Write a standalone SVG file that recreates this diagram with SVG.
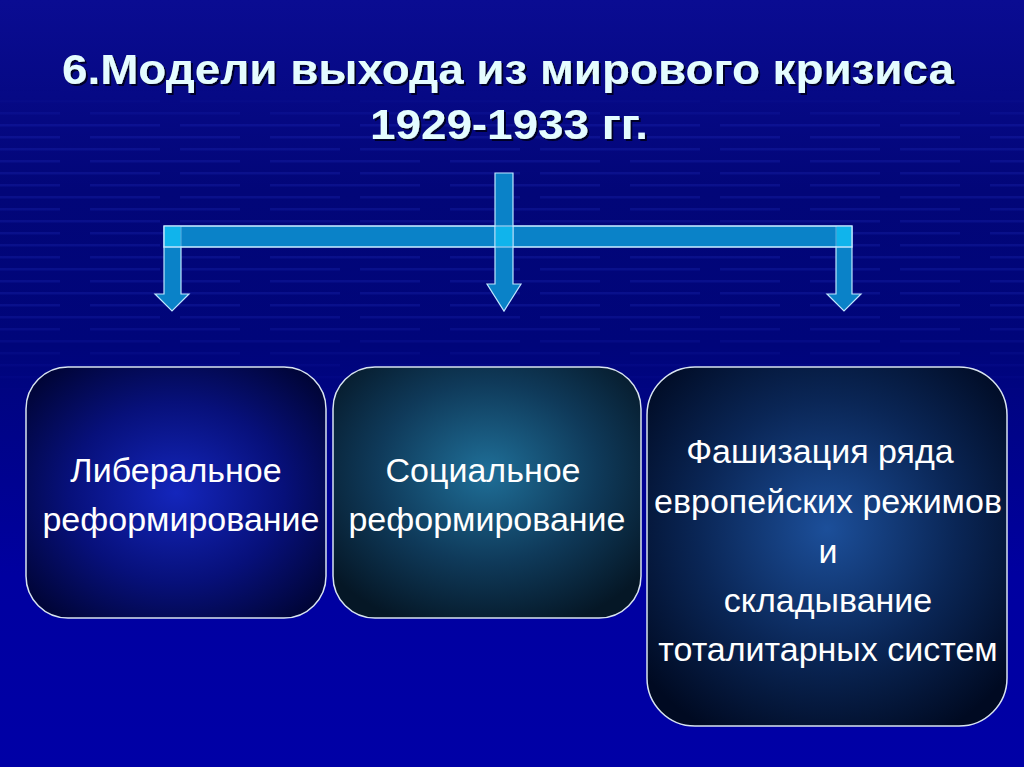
<svg xmlns="http://www.w3.org/2000/svg" width="1024" height="767" viewBox="0 0 1024 767">
  <defs>
    <linearGradient id="bg" x1="0" y1="0" x2="0" y2="1">
      <stop offset="0" stop-color="#0a0c92"/>
      <stop offset="0.25" stop-color="#020678"/>
      <stop offset="0.45" stop-color="#00057a"/>
      <stop offset="0.75" stop-color="#0000a0"/>
      <stop offset="1" stop-color="#0000a6"/>
    </linearGradient>
    <pattern id="grid" x="0" y="4" width="180" height="24" patternUnits="userSpaceOnUse">
      <rect x="0" y="0" width="160" height="2.5" fill="#3040e0"/>
      <rect x="90" y="12" width="150" height="2.5" fill="#3040e0"/>
      <rect x="-90" y="12" width="150" height="2.5" fill="#3040e0"/>
    </pattern>
    <linearGradient id="fade" x1="0" y1="0" x2="0" y2="1">
      <stop offset="0" stop-color="#fff" stop-opacity="0"/>
      <stop offset="0.12" stop-color="#fff" stop-opacity="0.18"/>
      <stop offset="0.7" stop-color="#fff" stop-opacity="0.18"/>
      <stop offset="1" stop-color="#fff" stop-opacity="0"/>
    </linearGradient>
    <mask id="gm">
      <rect x="0" y="90" width="1024" height="310" fill="url(#fade)"/>
    </mask>
    <radialGradient id="g1" cx="0.5" cy="0.5" r="0.65">
      <stop offset="0" stop-color="#1426bc"/>
      <stop offset="0.55" stop-color="#07107a"/>
      <stop offset="1" stop-color="#000434"/>
    </radialGradient>
    <radialGradient id="g2" cx="0.5" cy="0.42" r="0.65">
      <stop offset="0" stop-color="#1f6f98"/>
      <stop offset="0.55" stop-color="#0f3a5a"/>
      <stop offset="1" stop-color="#051726"/>
    </radialGradient>
    <radialGradient id="g3" cx="0.5" cy="0.45" r="0.65">
      <stop offset="0" stop-color="#1c4f9a"/>
      <stop offset="0.55" stop-color="#0a2656"/>
      <stop offset="1" stop-color="#000a22"/>
    </radialGradient>
    <filter id="shadow" x="-5%" y="-20%" width="110%" height="140%">
      <feDropShadow dx="2" dy="2" stdDeviation="0.6" flood-color="#000020" flood-opacity="0.95"/>
    </filter>
  </defs>
  <style>
    .title { font-family: "Liberation Sans", Arial, sans-serif; font-weight: bold; font-size: 43px; fill: #e4fcff; text-anchor: middle; }
    .box { stroke: #d8e4f0; stroke-width: 1.5; }
    .lbl { font-family: "Liberation Sans", Arial, sans-serif; font-size: 34px; fill: #ffffff; text-anchor: middle; }
    .arr { fill: #0a82c8; stroke: #bfe6ff; stroke-width: 1.2; }
    .hi { fill: #10b4ec; stroke: none; }
  </style>

  <rect width="1024" height="767" fill="url(#bg)"/>
  <rect x="0" y="90" width="1024" height="310" fill="url(#grid)" mask="url(#gm)"/>

  <g id="title" filter="url(#shadow)">
    <text class="title" x="508" y="84" textLength="892" lengthAdjust="spacingAndGlyphs">6.Модели выхода из мирового кризиса</text>
    <text class="title" x="509" y="139" textLength="278" lengthAdjust="spacingAndGlyphs">1929-1933 гг.</text>
  </g>

  <g id="connectors">
    <rect class="arr" x="164" y="226" width="688" height="21"/>
    <path class="arr" d="M495,173 H513 V284 H521 L504,311 L487,284 H495 Z"/>
    <path class="arr" d="M164,247 H181 V294 H189 L172,311 L155,294 H164 Z"/>
    <path class="arr" d="M836,247 H852 V294 H861 L844,311 L827,294 H836 Z"/>
    <rect class="hi" x="164.6" y="226.6" width="16" height="19.8"/>
    <rect class="hi" x="495.6" y="226.6" width="16.8" height="19.8"/>
    <rect class="hi" x="836.6" y="226.6" width="15" height="19.8"/>
    <path d="M164,226 H852 V247 H164 Z" fill="none" stroke="#bfe6ff" stroke-width="1.2"/>
    <path d="M495,226 V247 M513,226 V247 M181,226 V247 M836,226 V247" fill="none" stroke="#bfe6ff" stroke-width="0.8" opacity="0.6"/>
  </g>

  <g id="node-liberal">
    <rect class="box" x="26" y="367" width="300" height="251" rx="42" fill="url(#g1)"/>
    <text class="lbl" x="176" y="482">Либеральное</text>
    <text class="lbl" x="181" y="531">реформирование</text>
  </g>

  <g id="node-social">
    <rect class="box" x="333" y="367" width="308" height="251" rx="42" fill="url(#g2)"/>
    <text class="lbl" x="483" y="482">Социальное</text>
    <text class="lbl" x="487" y="531">реформирование</text>
  </g>

  <g id="node-fascism">
    <rect class="box" x="647" y="367" width="360" height="359" rx="48" fill="url(#g3)"/>
    <text class="lbl" x="820" y="463">Фашизация ряда</text>
    <text class="lbl" x="828" y="513">европейских режимов</text>
    <text class="lbl" x="828" y="563">и</text>
    <text class="lbl" x="828" y="612">складывание</text>
    <text class="lbl" x="828" y="661">тоталитарных систем</text>
  </g>
</svg>
